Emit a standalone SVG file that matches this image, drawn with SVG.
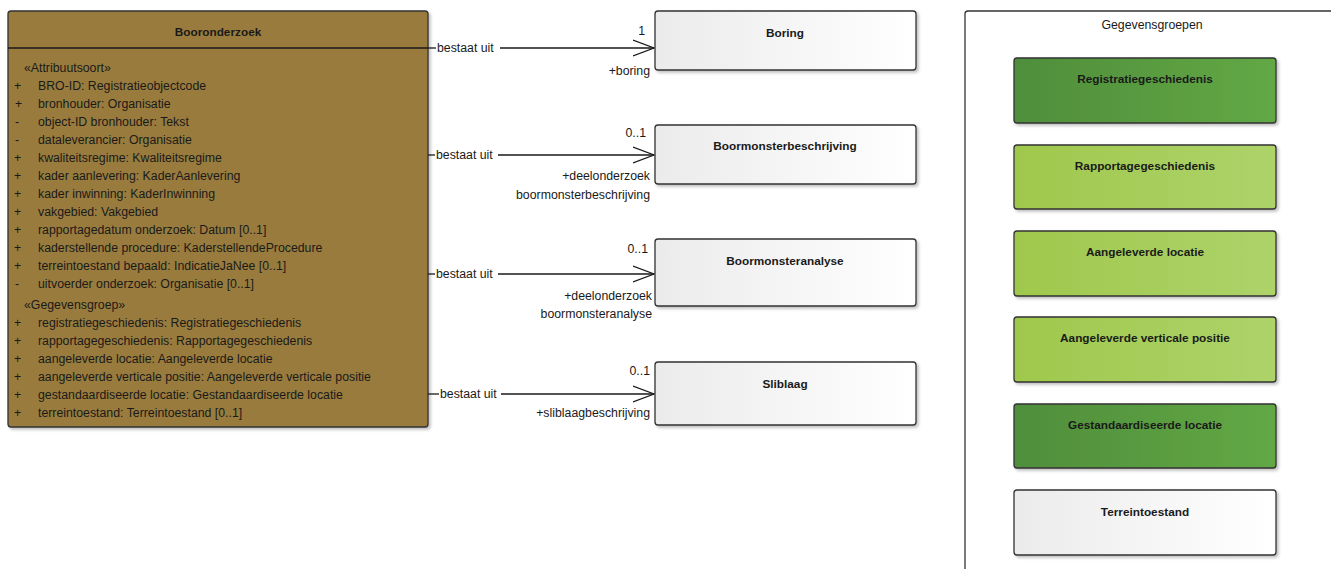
<svg xmlns="http://www.w3.org/2000/svg" width="1331" height="569" viewBox="0 0 1331 569">
<defs>
<filter id="sh" x="-5%" y="-5%" width="110%" height="120%"><feDropShadow dx="2" dy="2" stdDeviation="1.5" flood-color="#000" flood-opacity="0.25"/></filter>
<linearGradient id="gray" x1="0" y1="0" x2="1" y2="0"><stop offset="0" stop-color="#ebebeb"/><stop offset="1" stop-color="#ffffff"/></linearGradient>
<linearGradient id="dg" x1="0" y1="0" x2="1" y2="0"><stop offset="0" stop-color="#4f8e3b"/><stop offset="1" stop-color="#62a845"/></linearGradient>
<linearGradient id="lg" x1="0" y1="0" x2="1" y2="0"><stop offset="0" stop-color="#9fc84c"/><stop offset="1" stop-color="#add36a"/></linearGradient>
<marker id="open" markerWidth="24" markerHeight="20" refX="21" refY="9" orient="auto" markerUnits="userSpaceOnUse"><path d="M0,1 L21,9 L0,17" fill="none" stroke="#1a1a1a" stroke-width="1.3"/></marker>
</defs>
<style>
text{font-family:"Liberation Sans",Arial,sans-serif;font-size:12.3px;fill:#1a1a1a}
.b{font-weight:bold;font-size:11.8px}
.m{text-anchor:middle}
.e{text-anchor:end}
.box{stroke:#333;stroke-width:1.3}
.ln{stroke:#1a1a1a;stroke-width:1.3;fill:none}
.c{font-size:12.3px}
</style>
<rect width="1331" height="569" fill="#fff"/>

<g id="booronderzoek">
<rect x="8" y="11" width="420" height="416" rx="3" fill="#997b3c" class="box" filter="url(#sh)"/>
<line x1="8" y1="48" x2="428" y2="48" class="ln"/>
<text x="218" y="36" class="b m">Booronderzoek</text>
<text x="24" y="72">«Attribuutsoort»</text>
<g>
<text x="14" y="90">+</text><text x="38" y="90">BRO-ID: Registratieobjectcode</text>
<text x="15" y="108">+</text><text x="38" y="108">bronhouder: Organisatie</text>
<text x="15" y="126">-</text><text x="38" y="126">object-ID bronhouder: Tekst</text>
<text x="15" y="144">-</text><text x="38" y="144">dataleverancier: Organisatie</text>
<text x="14" y="162">+</text><text x="38" y="162">kwaliteitsregime: Kwaliteitsregime</text>
<text x="14" y="180">+</text><text x="38" y="180">kader aanlevering: KaderAanlevering</text>
<text x="14" y="198">+</text><text x="38" y="198">kader inwinning: KaderInwinning</text>
<text x="14" y="216">+</text><text x="38" y="216">vakgebied: Vakgebied</text>
<text x="14" y="234">+</text><text x="38" y="234">rapportagedatum onderzoek: Datum [0..1]</text>
<text x="14" y="252">+</text><text x="38" y="252">kaderstellende procedure: KaderstellendeProcedure</text>
<text x="14" y="270">+</text><text x="38" y="270">terreintoestand bepaald: IndicatieJaNee [0..1]</text>
<text x="15" y="288">-</text><text x="38" y="288">uitvoerder onderzoek: Organisatie [0..1]</text>
</g>
<text x="24" y="309">«Gegevensgroep»</text>
<g>
<text x="14" y="327">+</text><text x="38" y="327">registratiegeschiedenis: Registratiegeschiedenis</text>
<text x="14" y="345">+</text><text x="38" y="345">rapportagegeschiedenis: Rapportagegeschiedenis</text>
<text x="14" y="363">+</text><text x="38" y="363">aangeleverde locatie: Aangeleverde locatie</text>
<text x="14" y="381">+</text><text x="38" y="381">aangeleverde verticale positie: Aangeleverde verticale positie</text>
<text x="14" y="399">+</text><text x="38" y="399">gestandaardiseerde locatie: Gestandaardiseerde locatie</text>
<text x="14" y="417">+</text><text x="38" y="417">terreintoestand: Terreintoestand [0..1]</text>
</g>
</g>

<g id="connectors">
<g>
<line x1="428" y1="48" x2="436" y2="48" class="ln"/>
<line x1="500" y1="48" x2="654" y2="48" class="ln" marker-end="url(#open)"/>
<text x="437" y="52">bestaat uit</text>
<text x="645" y="35" class="e">1</text>
<text x="650" y="75" class="e">+boring</text>
</g>
<g>
<line x1="428" y1="155" x2="435" y2="155" class="ln"/>
<line x1="498" y1="155" x2="654" y2="155" class="ln" marker-end="url(#open)"/>
<text x="436" y="159">bestaat uit</text>
<text x="646" y="137" class="e">0..1</text>
<text x="650" y="180" class="e">+deelonderzoek</text>
<text x="650" y="199" class="e">boormonsterbeschrijving</text>
</g>
<g>
<line x1="428" y1="274" x2="435" y2="274" class="ln"/>
<line x1="498" y1="274" x2="654" y2="274" class="ln" marker-end="url(#open)"/>
<text x="436" y="278">bestaat uit</text>
<text x="648" y="253" class="e">0..1</text>
<text x="652" y="300" class="e">+deelonderzoek</text>
<text x="652" y="318" class="e">boormonsteranalyse</text>
</g>
<g>
<line x1="428" y1="394" x2="439" y2="394" class="ln"/>
<line x1="501" y1="394" x2="654" y2="394" class="ln" marker-end="url(#open)"/>
<text x="440" y="398">bestaat uit</text>
<text x="650" y="375" class="e">0..1</text>
<text x="650" y="417" class="e">+sliblaagbeschrijving</text>
</g>
</g>

<g id="boring">
<rect x="655" y="11" width="261" height="59" rx="3" fill="url(#gray)" class="box" filter="url(#sh)"/>
<text x="785" y="37" class="b m">Boring</text>
</g>
<g id="boormonsterbeschrijving">
<rect x="655" y="125" width="261" height="59" rx="3" fill="url(#gray)" class="box" filter="url(#sh)"/>
<text x="785" y="150" class="b m">Boormonsterbeschrijving</text>
</g>
<g id="boormonsteranalyse">
<rect x="655" y="239" width="261" height="67" rx="3" fill="url(#gray)" class="box" filter="url(#sh)"/>
<text x="785" y="265" class="b m">Boormonsteranalyse</text>
</g>
<g id="sliblaag">
<rect x="655" y="362" width="261" height="63" rx="3" fill="url(#gray)" class="box" filter="url(#sh)"/>
<text x="785" y="388" class="b m">Sliblaag</text>
</g>

<g id="gegevensgroepen">
<path d="M965,569 L965,14 Q965,11 968,11 L1331,11" fill="#fff" class="box"/>
<text x="1152" y="29" class="m">Gegevensgroepen</text>
</g>
<g id="registratiegeschiedenis">
<rect x="1014" y="58" width="262" height="65" rx="3" fill="url(#dg)" class="box" filter="url(#sh)"/>
<text x="1145" y="83" class="b m">Registratiegeschiedenis</text>
</g>
<g id="rapportagegeschiedenis">
<rect x="1014" y="145" width="262" height="64" rx="3" fill="url(#lg)" class="box" filter="url(#sh)"/>
<text x="1145" y="170" class="b m">Rapportagegeschiedenis</text>
</g>
<g id="aangeleverde-locatie">
<rect x="1014" y="231" width="262" height="65" rx="3" fill="url(#lg)" class="box" filter="url(#sh)"/>
<text x="1145" y="256" class="b m">Aangeleverde locatie</text>
</g>
<g id="aangeleverde-verticale-positie">
<rect x="1014" y="317" width="262" height="65" rx="3" fill="url(#lg)" class="box" filter="url(#sh)"/>
<text x="1145" y="342" class="b m">Aangeleverde verticale positie</text>
</g>
<g id="gestandaardiseerde-locatie">
<rect x="1014" y="404" width="262" height="64" rx="3" fill="url(#dg)" class="box" filter="url(#sh)"/>
<text x="1145" y="429" class="b m">Gestandaardiseerde locatie</text>
</g>
<g id="terreintoestand">
<rect x="1014" y="490" width="262" height="65" rx="3" fill="url(#gray)" class="box" filter="url(#sh)"/>
<text x="1145" y="516" class="b m">Terreintoestand</text>
</g>
</svg>
